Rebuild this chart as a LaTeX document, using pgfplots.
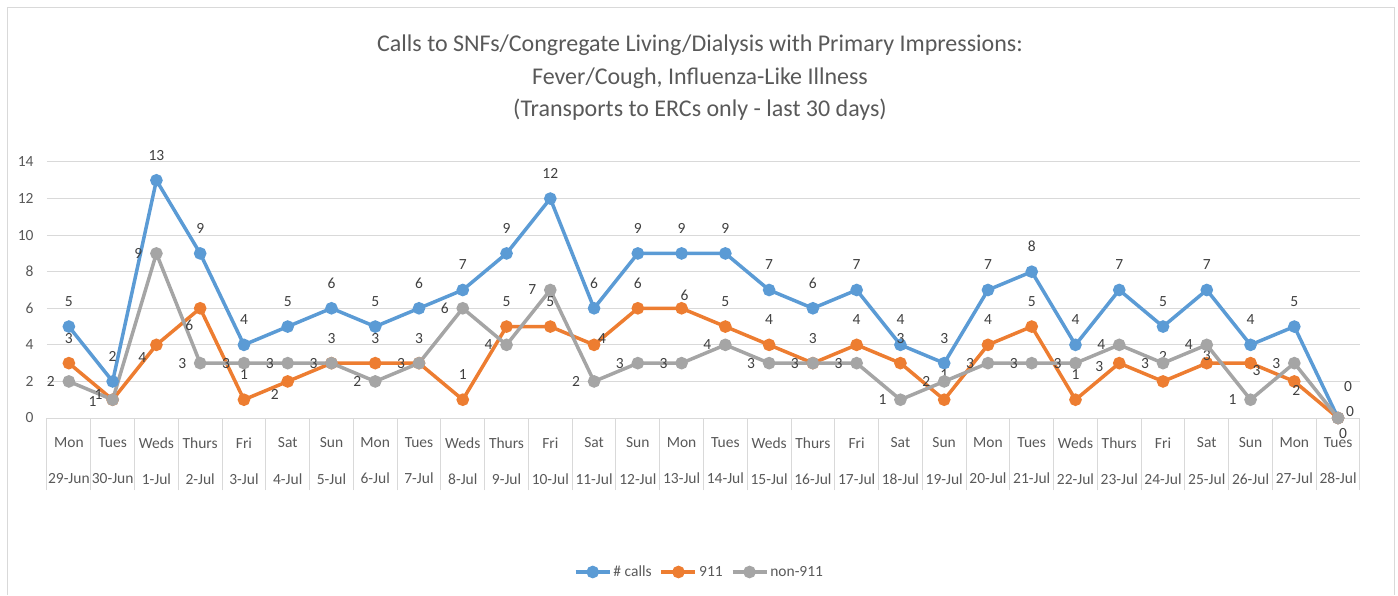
\documentclass[border=0pt]{standalone}
\usepackage{pgfplots}
\usepackage{pgfplotstable}
\usepackage{fontspec}
\setmainfont{Carlito}
\pgfplotsset{compat=1.18}
\definecolor{cblue}{HTML}{5B9BD5}
\definecolor{corange}{HTML}{ED7D31}
\definecolor{cgray}{HTML}{A5A5A5}
\definecolor{gridc}{HTML}{D9D9D9}
\definecolor{txt}{HTML}{595959}
\definecolor{lbl}{HTML}{404040}

\pgfplotstableread{
x y dx dy
0 5 0 25
1 2 0 25
2 13 0 25
3 9 0 25
4 4 0 25
5 5 0 25
6 6 0 25
7 5 0 25
8 6 0 25
9 7 0 25
10 9 0 25
11 12 0 25
12 6 0 25
13 9 0 25
14 9 0 25
15 9 0 25
16 7 0 25
17 6 0 25
18 7 0 25
19 4 0 25
20 3 0 25
21 7 0 25
22 8 0 25
23 4 0 25
24 7 0 25
25 5 0 25
26 7 0 25
27 4 0 25
28 5 0 25
29 0 10 31
}\calls

\pgfplotstableread{
x y dx dy
0 3 0 25
1 1 -14 5
2 4 -14 -13
3 6 -11 -17
4 1 0 25
5 2 -13 -13
6 3 0 25
7 3 0 25
8 3 0 25
9 1 0 25
10 5 0 25
11 5 0 25
12 4 8 6
13 6 0 25
14 6 3 13
15 5 0 25
16 4 0 25
17 3 0 25
18 4 0 25
19 3 0 25
20 1 0 25
21 4 0 25
22 5 0 25
23 1 0 25
24 3 -20 -3
25 2 0 25
26 3 0 8
27 3 6 -7
28 2 2 -9
29 0 12 6
}\nineoneone

\pgfplotstableread{
x y dx dy
0 2 -18 0
1 1 -20 -2
2 9 -18 0
3 3 -18 0
4 3 -18 0
5 3 -18 0
6 3 -18 0
7 2 -18 0
8 3 -18 0
9 6 -18 0
10 4 -18 0
11 7 -18 0
12 2 -18 0
13 3 -18 0
14 3 -18 0
15 4 -18 0
16 3 -18 0
17 3 -18 0
18 3 -18 0
19 1 -18 0
20 2 -18 0
21 3 -18 0
22 3 -18 0
23 3 -18 0
24 4 -18 0
25 3 -18 0
26 4 -18 0
27 1 -18 0
28 3 -18 0
29 0 5 -16
}\nonnine

\begin{document}
\begin{tikzpicture}[x=1pt,y=1pt]
\path[use as bounding box] (0,0) rectangle (1398,595);
\draw[gridc, line width=1pt] (7,0) -- (7,587) -- (1394,587) -- (1394,0);
\node[align=center, text=txt, font=\fontsize{24}{32.5}\selectfont] at (700,517)
  {Calls to SNFs/Congregate Living/Dialysis with Primary Impressions:\\
   Fever/Cough, Influenza-Like Illness\\
   (Transports to ERCs only - last 30 days)};
\begin{axis}[
  at={(47pt,177pt)}, anchor=south west,
  scale only axis, width=1313pt, height=256pt,
  xmin=-0.5, xmax=29.5, ymin=0, ymax=14,
  ytick={0,2,...,14},
  xtick={0,...,29},
  xticklabels={{Mon\\29-Jun},{Tues\\30-Jun},{Weds\\1-Jul},{Thurs\\2-Jul},{Fri\\3-Jul},{Sat\\4-Jul},{Sun\\5-Jul},{Mon\\6-Jul},{Tues\\7-Jul},{Weds\\8-Jul},{Thurs\\9-Jul},{Fri\\10-Jul},{Sat\\11-Jul},{Sun\\12-Jul},{Mon\\13-Jul},{Tues\\14-Jul},{Weds\\15-Jul},{Thurs\\16-Jul},{Fri\\17-Jul},{Sat\\18-Jul},{Sun\\19-Jul},{Mon\\20-Jul},{Tues\\21-Jul},{Weds\\22-Jul},{Thurs\\23-Jul},{Fri\\24-Jul},{Sat\\25-Jul},{Sun\\26-Jul},{Mon\\27-Jul},{Tues\\28-Jul}},
  xticklabel style={align=center, text=txt, font=\fontsize{15.5}{36.5}\selectfont, anchor=north, yshift=-16pt},
  yticklabel style={text=txt, font=\fontsize{15.5}{18}\selectfont, anchor=east, xshift=-10pt},
  /pgf/number format/assume math mode=true,
  major tick length=0pt,
  extra x ticks={-0.5,0.5,...,29.5},
  extra x tick labels={},
  extra x tick style={major tick length=72pt, tick align=outside, tickpos=bottom, tick style={draw=gridc, line width=1pt}, grid=none},
  ymajorgrids, grid style={draw=gridc, line width=1pt},
  axis line style={draw=none},
  clip=false,
  every axis plot/.append style={line width=3.5pt, mark=*, mark size=4.5pt},
  visualization depends on={\thisrow{dx}\as\dx},
  visualization depends on={\thisrow{dy}\as\dy},
  nodes near coords={\pgfmathprintnumber[assume math mode=true,fixed,precision=0]{\pgfplotspointmeta}},
  every node near coord/.append style={anchor=center, text=lbl, font=\fontsize{15.5}{18}\selectfont, xshift=\dx pt, yshift=\dy pt},
  legend columns=3,
  legend style={at={(0.497,-0.6016)}, anchor=center, draw=none, fill=none, font=\fontsize{15.5}{18}\selectfont, text=txt,
    /tikz/every even column/.append style={column sep=6pt}},
  legend image code/.code={\draw[mark repeat=2,mark phase=2] plot coordinates {(0pt,0pt) (17pt,0pt) (34pt,0pt)};},
]
\addplot[cblue] table[x=x,y=y] {\calls};
\addlegendentry{\# calls}
\addplot[corange] table[x=x,y=y] {\nineoneone};
\addlegendentry{911}
\addplot[cgray] table[x=x,y=y] {\nonnine};
\addlegendentry{non-911}
\end{axis}
\end{tikzpicture}
\end{document}
